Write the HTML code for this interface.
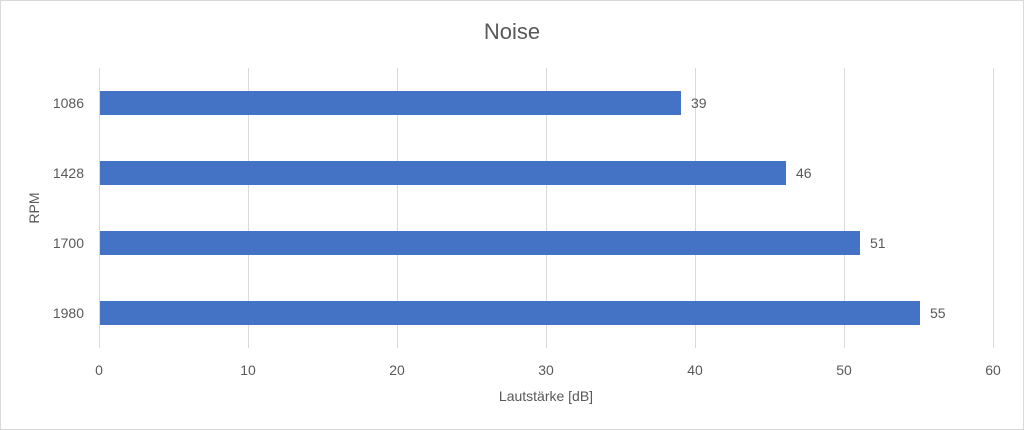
<!DOCTYPE html>
<html><head><meta charset="utf-8"><style>
html,body{margin:0;padding:0;background:#fff}
svg{display:block}
text{font-family:"Liberation Sans",sans-serif;fill:#595959}
</style></head><body>
<svg width="1024" height="430" viewBox="0 0 1024 430">
<rect x="0.5" y="0.5" width="1023" height="429" fill="#fff" stroke="#d9d9d9"/>
<text x="512" y="39" font-size="22" text-anchor="middle">Noise</text>
<g stroke="#d9d9d9" stroke-width="1">
<line x1="99.5" y1="68" x2="99.5" y2="348"/>
<line x1="248.5" y1="68" x2="248.5" y2="348"/>
<line x1="397.5" y1="68" x2="397.5" y2="348"/>
<line x1="546.5" y1="68" x2="546.5" y2="348"/>
<line x1="695.5" y1="68" x2="695.5" y2="348"/>
<line x1="844.5" y1="68" x2="844.5" y2="348"/>
<line x1="993.5" y1="68" x2="993.5" y2="348"/>
</g>
<g fill="#4472c4">
<rect x="100" y="91" width="581" height="24"/>
<rect x="100" y="161" width="686" height="24"/>
<rect x="100" y="231" width="760" height="24"/>
<rect x="100" y="301" width="820" height="24"/>
</g>
<g font-size="14">
<text x="691" y="108">39</text>
<text x="796" y="178">46</text>
<text x="870" y="248">51</text>
<text x="930" y="318">55</text>
<g text-anchor="end">
<text x="84" y="108">1086</text>
<text x="84" y="178">1428</text>
<text x="84" y="248">1700</text>
<text x="84" y="318">1980</text>
</g>
<g text-anchor="middle">
<text x="99" y="375">0</text>
<text x="248" y="375">10</text>
<text x="397" y="375">20</text>
<text x="546" y="375">30</text>
<text x="695" y="375">40</text>
<text x="844" y="375">50</text>
<text x="993" y="375">60</text>
</g>
<text x="546" y="401" font-size="14" text-anchor="middle">Lautstärke [dB]</text>
<text x="0" y="0" font-size="14" text-anchor="middle" transform="translate(39,208) rotate(-90)">RPM</text>
</g>
</svg>
</body></html>
